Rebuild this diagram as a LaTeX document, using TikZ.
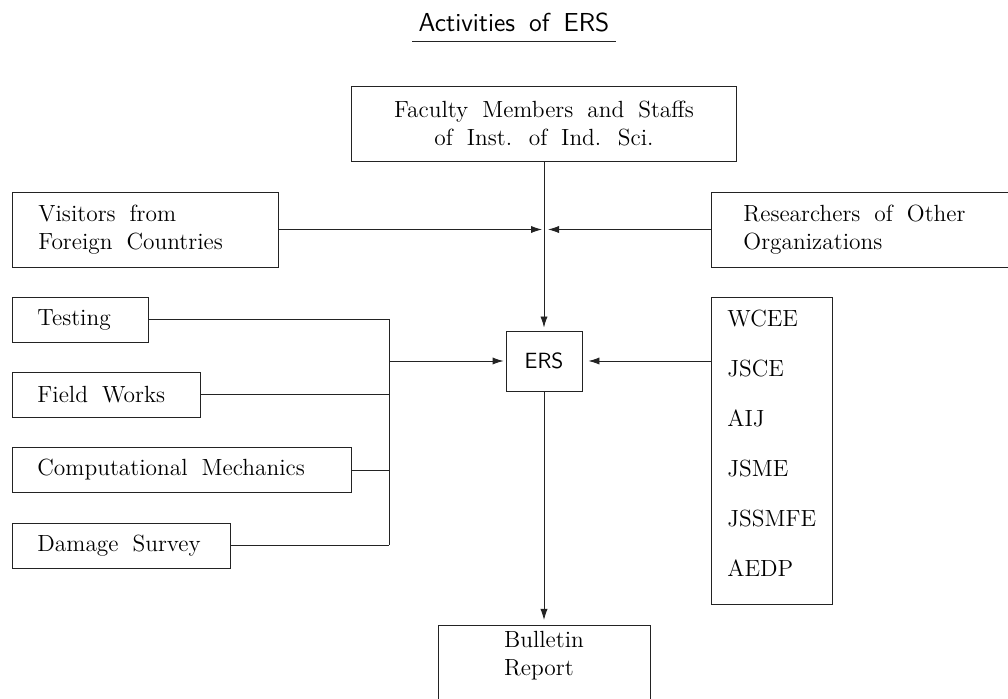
\documentclass[tikz,border=0pt]{standalone}
\usepackage{tikz}
\usetikzlibrary{arrows.meta,positioning,calc}
\definecolor{tinta}{RGB}{35,35,35}
\newcommand{\serifbox}{\fontsize{11.7}{13.8}\selectfont\spaceskip=7pt plus 1pt minus 1pt}
\newcommand{\sansbox}{\sffamily\fontsize{13}{15}\selectfont\spaceskip=7pt plus 1pt minus 1pt}
\tikzstyle{edge}=[draw=tinta, line width=0.45pt,
                  >={Latex[length=5.5pt,width=3.6pt]}]
\tikzstyle{box}=[draw=tinta, line width=0.45pt, inner sep=0pt,
                 font=\serifbox]
\tikzstyle{lbox}=[box, anchor=west, inner xsep=12.5pt,
                  minimum height=22.5pt, align=flush left]
\tikzstyle{orgitem}=[anchor=base west, inner sep=0pt, font=\serifbox]

\begin{document}
\begin{tikzpicture}[x=0.5pt,y=-0.5pt]
    \useasboundingbox (0,0) rectangle (1008,699);

    %title
    \draw (514,32) node (title) [anchor=base, inner xsep=3pt, inner ysep=4.5pt, font=\sansbox] {Activities of ERS};
    \draw[edge] (title.south west) -- (title.south east);

    %sources
    \draw (544,123.5) node (fac) [box, minimum width=192.5pt, minimum height=37.5pt, align=center] {Faculty Members and Staffs\\of Inst. of Ind. Sci.};
    \draw (12,229.5) node (vis) [box, anchor=west, inner xsep=13pt, minimum height=37.5pt, text width=107pt, align=flush left] {Visitors from\\Foreign Countries};
    \draw (711,229.5) node (res) [box, anchor=west, inner xsep=16pt, minimum height=37.5pt, text width=122pt, align=flush left] {Researchers of Other\\Organizations};

    \draw (544,361) node (ers) [box, minimum width=38pt, minimum height=30pt, font=\sffamily\fontsize{11}{13}\selectfont] {ERS};

    %activities
    \draw (12,319.5) node (test) [lbox, text width=43pt] {Testing};
    \draw (12,394.5) node (field) [lbox, text width=69pt] {Field Works};
    \draw (12,470) node (comp) [lbox, text width=144.5pt] {Computational Mechanics};
    \draw (12,545.5) node (dmg) [lbox, text width=84pt] {Damage Survey};

    %societies
    \draw (771.5,450.5) node (org) [box, minimum width=60.5pt, minimum height=153.5pt] {};
    \foreach \lab [count=\i from 0] in {WCEE,JSCE,AIJ,JSME,JSSMFE,AEDP}
        \draw (727,{327+50*\i}) node (o\i) [orgitem] {\lab};

    \draw (544,625) node (bul) [box, anchor=north, inner ysep=3pt, minimum width=106pt, text depth=40pt, align=left] {Bulletin\\Report};

    \coordinate (jn) at (ers |- vis);
    \coordinate (bus) at (389,361);

    \draw[edge,->,shorten >=1pt] (vis) -- (jn);
    \draw[edge,->,shorten >=2pt] (res) -- (jn);
    \draw[edge,->,shorten >=1.5pt] (fac) -- (ers);
    \foreach \n in {test,field,comp,dmg}
        \draw[edge] (\n.east) -- (\n.east -| bus);
    \draw[edge] (test.east -| bus) -- (dmg.east -| bus);
    \draw[edge,->,shorten >=1pt] (bus) -- (ers);
    \draw[edge,->,shorten >=3pt] (org.west |- ers) -- (ers);
    \draw[edge,->,shorten >=2.5pt] (ers) -- (bul);
\end{tikzpicture}
\end{document}
